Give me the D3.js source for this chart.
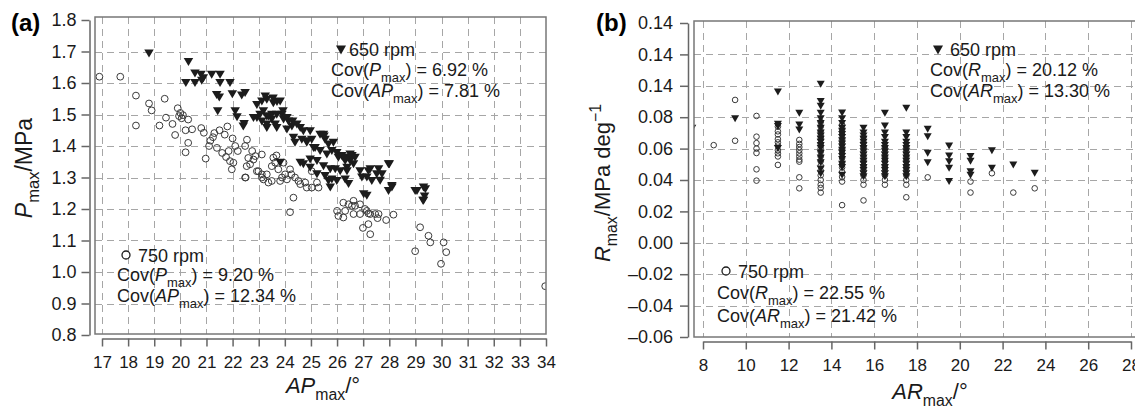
<!DOCTYPE html>
<html>
<head>
<meta charset="utf-8">
<script src="https://cdn.jsdelivr.net/npm/d3@7"></script>
<style>
body { margin: 0; background: #fff; }
svg { font-family: "Liberation Sans", Arial, Helvetica, sans-serif; }
</style>
</head>
<body>
<svg id="chart" width="1135" height="410"></svg>
<script>
// ---------------- data, panel (a) ----------------
const aXTicks = [17, 18, 19, 20, 21, 22, 23, 24, 25, 26, 27, 28, 29, 30, 31, 32, 33, 34];
const aYTicks = [0.8, 0.9, 1.0, 1.1, 1.2, 1.3, 1.4, 1.5, 1.6, 1.7, 1.8];

// 750 rpm, [APmax, Pmax]
const a750 = [
  [16.9,1.62],[17.7,1.62],[18.3,1.56],[18.3,1.465],[18.8,1.535],[18.9,1.513],[19.2,1.465],[19.4,1.55],
  [19.45,1.49],[19.7,1.47],[19.8,1.435],[19.9,1.52],[19.95,1.495],[20.0,1.505],[20.1,1.498],[20.05,1.488],
  [20.2,1.45],[20.3,1.484],[20.45,1.453],[20.3,1.41],[20.2,1.38],[20.8,1.457],[20.9,1.442],[20.97,1.36],
  [21.1,1.40],[21.15,1.417],[21.25,1.428],[21.3,1.441],[21.4,1.394],[21.5,1.45],[21.6,1.378],[21.7,1.436],
  [21.8,1.462],[21.75,1.365],[21.85,1.384],[21.9,1.352],[22.0,1.424],[22.1,1.40],[22.2,1.384],[21.97,1.326],
  [22.03,1.347],[22.5,1.30],[22.55,1.42],[22.6,1.362],[22.67,1.342],[22.8,1.357],[22.87,1.368],[22.75,1.384],
  [22.93,1.32],[23.12,1.31],[23.18,1.294],[23.37,1.284],[23.5,1.289],[23.56,1.363],[23.68,1.37],[22.48,1.40],
  [22.54,1.336],[22.48,1.30],[23.12,1.373],[22.99,1.32],[23.12,1.30],[23.31,1.31],[23.5,1.336],[23.63,1.347],
  [23.75,1.326],[23.89,1.30],[24.01,1.31],[24.08,1.294],[24.2,1.326],[24.25,1.31],[24.39,1.30],[24.52,1.289],
  [24.59,1.279],[24.33,1.236],[24.78,1.284],[24.84,1.268],[25.03,1.32],[25.03,1.268],[25.23,1.284],[25.29,1.268],
  [23.95,1.347],[23.82,1.289],[24.2,1.19],[26.0,1.194],[26.05,1.178],[26.24,1.22],[26.24,1.173],[26.31,1.194],
  [26.44,1.215],[26.57,1.21],[26.63,1.226],[26.63,1.184],[26.69,1.21],[26.88,1.215],[26.88,1.184],[27.07,1.20],
  [27.14,1.194],[27.2,1.186],[27.27,1.184],[27.46,1.184],[27.59,1.184],[27.55,1.171],[27.88,1.165],[28.16,1.182],
  [26.99,1.14],[27.2,1.152],[27.27,1.12],[28.99,1.066],[29.18,1.142],[29.5,1.115],[29.57,1.094],[30.08,1.094],
  [30.18,1.063],[29.98,1.026],[33.97,0.955]
];

// 650 rpm, [APmax, Pmax]
const a650 = [
  [18.8,1.694],[20.31,1.667],[20.56,1.63],[20.79,1.626],[20.88,1.615],[21.2,1.626],[21.52,1.626],[20.21,1.60],
  [20.56,1.60],[20.82,1.607],[21.52,1.60],[21.9,1.60],[21.39,1.562],[21.49,1.554],[21.99,1.564],[22.48,1.568],
  [22.35,1.56],[21.43,1.51],[22.1,1.51],[22.17,1.491],[22.41,1.462],[22.8,1.489],[22.93,1.53],[23.12,1.541],
  [23.31,1.547],[23.56,1.536],[22.93,1.489],[23.12,1.478],[23.31,1.494],[23.18,1.51],[23.5,1.484],[23.31,1.457],
  [23.25,1.557],[23.7,1.54],[23.05,1.499],[23.37,1.494],[23.5,1.499],[23.89,1.499],[23.95,1.484],[24.14,1.478],
  [24.27,1.462],[24.46,1.468],[24.59,1.457],[24.71,1.447],[24.97,1.447],[22.44,1.47],[23.31,1.468],[23.69,1.457],
  [24.08,1.452],[24.33,1.426],[24.39,1.41],[24.65,1.42],[24.84,1.41],[25.03,1.42],[25.16,1.394],[25.48,1.436],
  [25.54,1.42],[25.86,1.41],[25.35,1.384],[25.61,1.373],[25.8,1.384],[25.99,1.378],[26.18,1.368],[26.38,1.363],
  [26.57,1.368],[26.69,1.363],[24.59,1.347],[24.97,1.357],[25.23,1.352],[25.48,1.336],[25.74,1.326],[25.93,1.326],
  [26.12,1.32],[26.38,1.331],[25.54,1.305],[25.8,1.294],[25.74,1.268],[25.99,1.289],[23.82,1.347],[26.24,1.363],
  [26.5,1.352],[26.38,1.32],[26.31,1.294],[26.44,1.279],[26.95,1.30],[27.2,1.32],[27.33,1.289],[27.59,1.326],
  [27.72,1.31],[27.65,1.29],[28.0,1.342],[28.1,1.273],[27.97,1.257],[27.02,1.247],[27.14,1.242],[28.99,1.257],
  [29.38,1.263],[29.29,1.226],[29.35,1.24],[23.55,1.551],[23.82,1.541],[23.93,1.51],[24.08,1.489],[24.3,1.478],
  [23.69,1.499],[23.63,1.468],[24.84,1.415],[25.1,1.394],[25.35,1.436],[25.5,1.43],[25.67,1.405],[26.05,1.363],
  [26.31,1.352],[26.5,1.373],[26.63,1.342],[26.88,1.32],[24.71,1.342],[24.97,1.331],[25.23,1.31],[25.67,1.289],
  [27.14,1.30],[27.27,1.326],[27.52,1.31],[27.97,1.342],[28.1,1.268],[29.06,1.257],[29.31,1.268],[29.31,1.226]
];

// ---------------- data, panel (b) ----------------
const bXTicks = [8, 10, 12, 14, 16, 18, 20, 22, 24, 26, 28];
const bYTicks = [-0.06, -0.04, -0.02, 0.00, 0.02, 0.04, 0.06, 0.08, 0.10, 0.12, 0.14];
const bYLabels = ['\u20130.06', '\u20130.04', '\u20130.02', '0.00', '0.02', '0.04', '0.06', '0.08', '0.14', '0.14', '0.14'];

// columns: [ARmax, [Rmax values]]
const b650 = [
  [7.5, [0.073]],
  [9.5, [0.079]],
  [11.5, [0.096, 0.0755, 0.074, 0.060]],
  [12.5, [0.0825, 0.075, 0.0718]],
  [13.5, [0.101, 0.090, 0.087, 0.0825, 0.079, 0.076, 0.073, 0.070, 0.068, 0.066, 0.064, 0.062, 0.060, 0.057, 0.054, 0.051, 0.047, 0.044]],
  [14.5, [0.0826, 0.079, 0.076, 0.073, 0.071, 0.069, 0.067, 0.065, 0.063, 0.061, 0.059, 0.057, 0.055, 0.053, 0.050, 0.048, 0.043]],
  [15.5, [0.073, 0.070, 0.068, 0.066, 0.064, 0.062, 0.060, 0.058, 0.056, 0.054, 0.052, 0.050, 0.048, 0.046, 0.044, 0.042]],
  [16.5, [0.0825, 0.0744, 0.070, 0.067, 0.064, 0.062, 0.060, 0.058, 0.056, 0.054, 0.052, 0.050, 0.048, 0.046, 0.044, 0.042]],
  [17.5, [0.0857, 0.070, 0.067, 0.064, 0.062, 0.060, 0.058, 0.056, 0.054, 0.052, 0.050, 0.048, 0.046, 0.044, 0.042]],
  [18.5, [0.0723, 0.0676, 0.057, 0.051]],
  [19.5, [0.0617, 0.0553, 0.0517, 0.0475, 0.039]],
  [20.5, [0.0549, 0.052, 0.0453, 0.043]],
  [21.5, [0.0587, 0.0475]],
  [22.5, [0.0496]],
  [23.5, [0.0443]]
];

const b750 = [
  [8.5, [0.0622]],
  [9.5, [0.091, 0.065]],
  [10.5, [0.0808, 0.0676, 0.0635, 0.060, 0.0572, 0.0468, 0.0396]],
  [11.5, [0.074, 0.071, 0.069, 0.066, 0.064, 0.062, 0.059, 0.057, 0.055, 0.0496]],
  [12.5, [0.0655, 0.063, 0.061, 0.059, 0.057, 0.055, 0.053, 0.0517, 0.0417, 0.0347]],
  [13.5, [0.077, 0.074, 0.071, 0.068, 0.066, 0.063, 0.060, 0.058, 0.055, 0.052, 0.049, 0.046, 0.043, 0.040, 0.037, 0.035, 0.032]],
  [14.5, [0.075, 0.072, 0.069, 0.066, 0.063, 0.060, 0.057, 0.054, 0.051, 0.048, 0.045, 0.042, 0.039, 0.024]],
  [15.5, [0.0676, 0.064, 0.061, 0.058, 0.055, 0.052, 0.049, 0.046, 0.043, 0.040, 0.037, 0.027]],
  [16.5, [0.061, 0.058, 0.055, 0.052, 0.049, 0.046, 0.043, 0.040, 0.037]],
  [17.5, [0.061, 0.058, 0.055, 0.052, 0.049, 0.046, 0.043, 0.040, 0.037, 0.029]],
  [18.5, [0.0417]],
  [20.5, [0.039, 0.032]],
  [21.5, [0.0443]],
  [22.5, [0.032]],
  [23.5, [0.0347]]
];

const flatCols = cols => cols.flatMap(c => c[1].map(v => [c[0], v]));

// ---------------- helpers ----------------
const svg = d3.select('#chart');
const gridColor = '#a6a6a6';
const axisColor = '#666';

// text with italic / sub / sup parts
function richText(g, x, y, parts, size, anchor, rotate) {
    const t = g.append('text')
        .attr('x', x).attr('y', y)
        .attr('font-size', size)
        .attr('fill', '#1a1a1a')
        .attr('text-anchor', anchor || 'start');
    if (rotate) t.attr('transform', `rotate(${rotate},${x},${y})`);
    let cur = 0;
    parts.forEach(p => {
        const s = t.append('tspan').text(p[0]);
        let target = 0;
        if (p[1] === 'i') s.attr('font-style', 'italic');
        if (p[1] === 'sub') { target = size * 0.32; s.attr('font-size', size * 0.72); }
        if (p[1] === 'sup') { target = -size * 0.42; s.attr('font-size', size * 0.72); }
        if (target !== cur) s.attr('dy', target - cur);
        cur = target;
    });
    return t;
}

const tri = (w, h) => `M${-w / 2},${-h / 2}L${w / 2},${-h / 2}L0,${h / 2}Z`;

function drawPanel(p) {
    const x = d3.scaleLinear().domain(p.xDomain).range(p.xRange);
    const y = d3.scaleLinear().domain(p.yDomain).range(p.yRange);
    const b = p.box;

    svg.append('clipPath').attr('id', 'clip-' + p.id)
        .append('rect')
        .attr('x', b.left).attr('y', b.top)
        .attr('width', b.right - b.left).attr('height', b.bottom - b.top);

    const grid = svg.append('g')
        .attr('stroke', gridColor)
        .attr('stroke-width', 1)
        .attr('stroke-dasharray', '7,5');

    grid.selectAll('.vg')
        .data(p.xTicks.filter(v => x(v) > b.left + 3 && x(v) < b.right - 3))
        .join('line')
        .attr('x1', d => Math.round(x(d)) + 0.5).attr('x2', d => Math.round(x(d)) + 0.5)
        .attr('y1', b.top).attr('y2', b.bottom);

    grid.selectAll('.hg')
        .data(p.yTicks.filter(v => y(v) > b.top + 4 && y(v) < b.bottom - 3))
        .join('line')
        .attr('y1', d => Math.round(y(d)) + 0.5).attr('y2', d => Math.round(y(d)) + 0.5)
        .attr('x1', b.left).attr('x2', b.right);

    // points
    const pts = svg.append('g').attr('clip-path', `url(#clip-${p.id})`);

    pts.append('g')
        .selectAll('circle')
        .data(p.circles)
        .join('circle')
        .attr('cx', d => x(d[0]))
        .attr('cy', d => y(d[1]))
        .attr('r', p.r)
        .attr('fill', 'none')
        .attr('stroke', '#3a3a3a')
        .attr('stroke-width', 1);

    pts.append('g')
        .selectAll('path')
        .data(p.triangles)
        .join('path')
        .attr('d', tri(p.triW, p.triH))
        .attr('transform', d => `translate(${x(d[0])},${y(d[1])})`)
        .attr('fill', '#1c1c1c');

    // box
    svg.append('rect')
        .attr('x', b.left).attr('y', b.top)
        .attr('width', b.right - b.left).attr('height', b.bottom - b.top)
        .attr('fill', 'none')
        .attr('stroke', '#777')
        .attr('stroke-width', 1.5);

    // axes
    const yAxis = d3.axisLeft(y)
        .tickValues(p.yTicks)
        .tickFormat((d, i) => p.yLabels[i])
        .tickSize(8).tickSizeOuter(0).tickPadding(p.yPad);
    const gy = svg.append('g')
        .attr('transform', `translate(${p.yAxisX},0)`)
        .call(yAxis);
    gy.selectAll('text').attr('font-size', p.yFont).attr('fill', '#1a1a1a');

    const xAxis = d3.axisBottom(x)
        .tickValues(p.xTicks)
        .tickFormat(d => d)
        .tickSize(8).tickSizeOuter(0).tickPadding(p.xPad);
    const gx = svg.append('g')
        .attr('transform', `translate(0,${p.xAxisY})`)
        .call(xAxis);
    gx.selectAll('text').attr('font-size', p.xFont).attr('fill', '#1a1a1a');

    [gx, gy].forEach(g => {
        g.attr('font-family', null).attr('font-size', null);
        g.select('.domain').attr('stroke', axisColor).attr('stroke-width', 1.5);
        g.selectAll('.tick line').attr('stroke', axisColor).attr('stroke-width', 1.5);
    });
}

// ---------------- panel (a) ----------------
drawPanel({
    id: 'a',
    xDomain: [17, 34], xRange: [102, 546],
    yDomain: [0.8, 1.8], yRange: [335, 20],
    box: { left: 95, right: 546, top: 17, bottom: 334 },
    xTicks: aXTicks, yTicks: aYTicks,
    yLabels: aYTicks.map(v => v.toFixed(1)),
    yAxisX: 89.5, xAxisY: 338.5, yPad: 5, xPad: 9,
    yFont: 18, xFont: 17,
    circles: a750, triangles: a650,
    r: 3.4, triW: 9.5, triH: 8
});

// ---------------- panel (b) ----------------
drawPanel({
    id: 'b',
    xDomain: [8, 28], xRange: [703, 1131],
    yDomain: [-0.06, 0.14], yRange: [337, 23],
    box: { left: 694, right: 1150, top: 21, bottom: 337 },
    xTicks: bXTicks, yTicks: bYTicks,
    yLabels: bYLabels,
    yAxisX: 688, xAxisY: 341.5, yPad: 7, xPad: 9,
    yFont: 18, xFont: 17,
    circles: flatCols(b750), triangles: flatCols(b650),
    r: 2.8, triW: 8, triH: 7
});

// ---------------- labels ----------------
svg.append('text').attr('x', 11).attr('y', 31).attr('font-size', 24).attr('font-weight', 'bold').text('(a)');
svg.append('text').attr('x', 596).attr('y', 31).attr('font-size', 24).attr('font-weight', 'bold').text('(b)');

richText(svg, 323, 393, [['AP', 'i'], ['max', 'sub'], ['/\u00b0', '']], 22, 'middle');
richText(svg, 32, 168, [['P', 'i'], ['max', 'sub'], ['/MPa', '']], 23, 'middle', -90);
richText(svg, 930, 399, [['AR', 'i'], ['max', 'sub'], ['/\u00b0', '']], 22, 'middle');
richText(svg, 610, 183, [['R', 'i'], ['max', 'sub'], ['/MPa deg', ''], ['\u22121', 'sup']], 22, 'middle', -90);

// legends
function legendSymbol(kind, cx, cy, s) {
    if (kind === 'tri') {
        svg.append('path').attr('d', tri(s, s * 0.9))
            .attr('transform', `translate(${cx},${cy})`).attr('fill', '#1c1c1c');
    } else {
        svg.append('circle').attr('cx', cx).attr('cy', cy).attr('r', s / 2)
            .attr('fill', 'none').attr('stroke', '#1c1c1c').attr('stroke-width', 1.3);
    }
}

const legendFont = 18;
// (a) 650 rpm
legendSymbol('tri', 341, 50, 10);
richText(svg, 349, 56, [['650 rpm', '']], legendFont);
richText(svg, 331, 76, [['Cov(', ''], ['P', 'i'], ['max', 'sub'], [') = 6.92 %', '']], legendFont);
richText(svg, 331, 97, [['Cov(', ''], ['AP', 'i'], ['max', 'sub'], [') = 7.81 %', '']], legendFont);
// (a) 750 rpm
legendSymbol('circle', 126, 255, 8);
richText(svg, 138, 262, [['750 rpm', '']], legendFont);
richText(svg, 117, 281, [['Cov(', ''], ['P', 'i'], ['max', 'sub'], [') = 9.20 %', '']], legendFont);
richText(svg, 117, 302, [['Cov(', ''], ['AP', 'i'], ['max', 'sub'], [') = 12.34 %', '']], legendFont);
// (b) 650 rpm
legendSymbol('tri', 938, 50, 10);
richText(svg, 950, 56, [['650 rpm', '']], legendFont);
richText(svg, 930, 76, [['Cov(', ''], ['R', 'i'], ['max', 'sub'], [') = 20.12 %', '']], legendFont);
richText(svg, 930, 97, [['Cov(', ''], ['AR', 'i'], ['max', 'sub'], [') = 13.30 %', '']], legendFont);
// (b) 750 rpm
legendSymbol('circle', 726, 271, 8);
richText(svg, 738, 278, [['750 rpm', '']], legendFont);
richText(svg, 717, 299, [['Cov(', ''], ['R', 'i'], ['max', 'sub'], [') = 22.55 %', '']], legendFont);
richText(svg, 717, 322, [['Cov(', ''], ['AR', 'i'], ['max', 'sub'], [') = 21.42 %', '']], legendFont);
</script>
</body>
</html>
